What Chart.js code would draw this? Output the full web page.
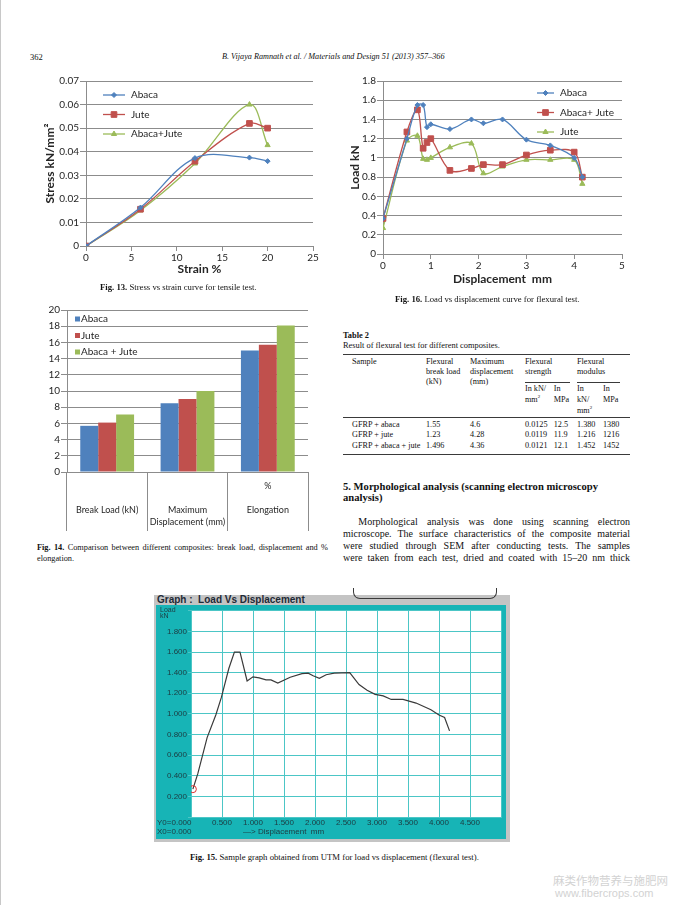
<!DOCTYPE html>
<html>
<head>
<meta charset="utf-8">
<script src="https://cdn.jsdelivr.net/npm/chart.js@4.4.1/dist/chart.umd.min.js"></script>
<style>
  html, body { margin: 0; padding: 0; background: #fff; }
  body { width: 678px; height: 905px; position: relative; overflow: hidden;
         font-family: "Liberation Serif", serif; color: #111; }
  canvas { position: absolute; }
  .t { position: absolute; white-space: nowrap; }
  .rule { position: absolute; height: 1px; background: #3a3a3a; }
  .just { text-align: justify; text-align-last: justify; white-space: normal; }
</style>
</head>
<body>
<div style="position:absolute;left:0;top:0;width:1px;height:905px;background:#c8c8c8"></div>

<canvas id="fig13" width="300" height="210" style="left:30px;top:72px"></canvas>
<canvas id="fig16" width="290" height="215" style="left:340px;top:72px"></canvas>
<canvas id="fig14" width="290" height="235" style="left:30px;top:303px"></canvas>

<!-- окно UTM (Fig. 15) -->
<div style="position:absolute;left:154px;top:595px;width:356px;height:247px;background:#c4c4c4"></div>
<div style="position:absolute;left:353px;top:588px;width:142px;height:10px;border:1px solid #3a3a3a;border-top:none;border-radius:0 0 7px 7px"></div>
<div class="t" style="left:157px;top:594px;font:bold 10px 'Liberation Sans';line-height:11px;color:#1e2a36">Graph :&nbsp; Load Vs Displacement</div>
<canvas id="fig15" width="350" height="234" style="left:156px;top:605px"></canvas>

<div id="texts"></div>

<script>
// ============================================
// Страница 362 — графики Fig. 13–16 (Chart.js)
// ============================================

// Fig. 13 — напряжение / деформация
const strainPct = [0, 6, 12, 18, 20];
const stressAbaca = [0, 0.0163, 0.0373, 0.0375, 0.036];
const stressJute = [0, 0.0156, 0.036, 0.052, 0.050];
const stressAbacaJute = [0, 0.0151, 0.035, 0.060, 0.0428];

// Fig. 16 — нагрузка / перемещение (изгиб)
const flexDisp = [0, 0.5, 0.72, 0.84, 0.92, 1.0, 1.4, 1.85, 2.1, 2.5, 3.0, 3.5, 4.0, 4.17];
const flexAbaca = [0.37, 1.20, 1.55, 1.55, 1.32, 1.35, 1.30, 1.40, 1.36, 1.40, 1.19, 1.13, 1.00, 0.80];
const flexAbacaJute = [0.37, 1.27, 1.50, 1.10, 1.16, 1.20, 0.87, 0.89, 0.93, 0.93, 1.03, 1.08, 1.06, 0.80];
const flexJute = [0.27, 1.18, 1.23, 0.99, 0.98, 1.00, 1.11, 1.15, 0.84, 0.91, 0.98, 0.98, 0.98, 0.73];

// Fig. 14 — сравнение композитов
const barCategories = [['', '', 'Break Load (kN)'], ['', '', 'Maximum', 'Displacement (mm)'], ['%', '', 'Elongation']];
const barAbaca = [5.7, 8.5, 15.0];
const barJute = [6.1, 9.0, 15.7];
const barAbacaJute = [7.1, 10.0, 18.1];

// Fig. 15 — график с UTM
const utmDisp = [0.03, 0.11, 0.26, 0.40, 0.49, 0.61, 0.70, 0.79, 0.905, 1.0, 1.10, 1.21, 1.29, 1.40, 1.60, 1.79, 1.89,
  1.97, 2.07, 2.18, 2.31, 2.56, 2.71, 2.84, 2.97, 3.10, 3.23, 3.42, 3.63, 3.87, 4.00, 4.09, 4.17];
const utmLoad = [0.27, 0.42, 0.77, 0.99, 1.16, 1.44, 1.60, 1.60, 1.32, 1.36, 1.35, 1.33, 1.33, 1.30, 1.355, 1.39, 1.395,
  1.37, 1.345, 1.38, 1.395, 1.40, 1.285, 1.23, 1.19, 1.175, 1.14, 1.14, 1.105, 1.04, 0.99, 0.965, 0.835];

const BLUE = '#4f81bd';
const RED = '#c0504d';
const GREEN = '#9bbb59';
const GRID = '#8c8c8c';
const TXT = '#262626';
const TEAL = '#17b4b6';
const tickFont = { family: 'Lato', size: 10 };
const titleFont = { family: 'Lato', size: 12, weight: 'bold' };

const pts = (xs, ys) => xs.map((x, i) => ({ x, y: ys[i] }));

// легенда внутри области графика (как в Excel: линия + маркер)
const insideLegend = {
  id: 'insideLegend',
  afterDraw(chart, args, opts) {
    if (opts.x === undefined) return;
    const ctx = chart.ctx;
    ctx.save();
    ctx.font = '10px Lato';
    ctx.textBaseline = 'middle';
    chart.data.datasets.forEach((ds, i) => {
      const y = opts.y + i * opts.gap;
      if (opts.box) {
        ctx.fillStyle = ds.backgroundColor;
        ctx.fillRect(opts.x, y - 2.5, 5, 5);
      } else {
        ctx.strokeStyle = ds.borderColor;
        ctx.lineWidth = 1.3;
        ctx.beginPath();
        ctx.moveTo(opts.x, y);
        ctx.lineTo(opts.x + opts.len, y);
        ctx.stroke();
        ctx.fillStyle = ds.pointBackgroundColor;
        ctx.strokeStyle = ds.pointBorderColor;
        ctx.lineWidth = 1;
        Chart.helpers.drawPoint(ctx, { pointStyle: ds.pointStyle, radius: ds.pointRadius, borderWidth: 1, rotation: 0 },
          opts.x + opts.len / 2, y);
      }
      ctx.fillStyle = TXT;
      ctx.fillText(ds.label, opts.x + opts.len + opts.textGap, y);
    });
    ctx.restore();
  }
};

function series(label, xs, ys, color, style, radius) {
  return {
    label, data: pts(xs, ys),
    borderColor: color, backgroundColor: color,
    pointBackgroundColor: color, pointBorderColor: color,
    pointStyle: style, pointRadius: radius, pointBorderWidth: 1,
    borderWidth: 1.3, tension: 0.35, fill: false
  };
}

function makeLine(id, datasets, cfg) {
  return new Chart(document.getElementById(id), {
    type: 'line',
    data: { datasets },
    options: {
      responsive: false, animation: false, devicePixelRatio: 1,
      layout: { padding: cfg.padding },
      plugins: { legend: { display: false }, tooltip: { enabled: false }, insideLegend: cfg.legend },
      scales: {
        x: {
          type: 'linear', min: cfg.xMin, max: cfg.xMax,
          ticks: { stepSize: cfg.xStep, color: TXT, font: tickFont, padding: 1 },
          grid: { drawOnChartArea: false, color: GRID, tickLength: 5 },
          border: { color: GRID },
          title: { display: true, text: cfg.xTitle, color: TXT, font: titleFont, padding: { top: 0, bottom: cfg.xTitlePad } },
          afterFit: s => { s.height = cfg.xH; }
        },
        y: {
          min: cfg.yMin, max: cfg.yMax,
          ticks: { stepSize: cfg.yStep, color: TXT, font: tickFont, padding: 1, callback: cfg.yFmt },
          grid: { color: GRID, tickLength: 6 },
          border: { color: GRID },
          title: { display: true, text: cfg.yTitle, color: TXT, font: titleFont, padding: { top: cfg.yTitlePad, bottom: 0 } },
          afterFit: s => { s.width = cfg.yW; }
        }
      }
    },
    plugins: [insideLegend]
  });
}

// Fig. 13
makeLine('fig13', [
  series('Abaca', strainPct, stressAbaca, BLUE, 'rectRot', 2.5),
  series('Jute', strainPct, stressJute, RED, 'rect', 4),
  series('Abaca+Jute', strainPct, stressAbacaJute, GREEN, 'triangle', 3)
], {
  padding: { top: 9, right: 17, left: 0, bottom: 0 },
  xMin: 0, xMax: 25, xStep: 5, xTitle: 'Strain %', xTitlePad: 6, xH: 36,
  yMin: 0, yMax: 0.07, yStep: 0.01, yTitle: 'Stress kN/mm²', yTitlePad: 13, yW: 56,
  yFmt: v => String(+v.toFixed(2)),
  legend: { x: 73, y: 23, gap: 19.5, len: 22, textGap: 6 }
});

// Fig. 16
makeLine('fig16', [
  series('Abaca', flexDisp, flexAbaca, BLUE, 'rectRot', 2.5),
  series('Abaca+ Jute', flexDisp, flexAbacaJute, RED, 'rect', 4),
  series('Jute', flexDisp, flexJute, GREEN, 'triangle', 3)
], {
  padding: { top: 9, right: 8, left: 0, bottom: 0 },
  xMin: 0, xMax: 5, xStep: 1, xTitle: 'Displacement  mm', xTitlePad: 1, xH: 33,
  yMin: 0, yMax: 1.8, yStep: 0.2, yTitle: 'Load kN', yTitlePad: 8, yW: 43,
  yFmt: v => String(+v.toFixed(1)),
  legend: { x: 197, y: 21, gap: 19.5, len: 17, textGap: 6 }
});

// Fig. 14
new Chart(document.getElementById('fig14'), {
  type: 'bar',
  data: {
    labels: barCategories,
    datasets: [
      { label: 'Abaca', data: barAbaca, backgroundColor: BLUE },
      { label: 'Jute', data: barJute, backgroundColor: RED },
      { label: 'Abaca + Jute', data: barAbacaJute, backgroundColor: GREEN }
    ]
  },
  options: {
    responsive: false, animation: false, devicePixelRatio: 1,
    layout: { padding: { top: 7, right: 12, left: 0, bottom: 0 } },
    datasets: { bar: { categoryPercentage: 0.67, barPercentage: 1 } },
    plugins: {
      legend: { display: false }, tooltip: { enabled: false },
      insideLegend: { box: true, x: 45, y: 16, gap: 16.5, len: 0, textGap: 6 }
    },
    scales: {
      x: {
        grid: { offset: true, drawOnChartArea: false, color: GRID, tickLength: 59 },
        border: { color: GRID },
        ticks: { color: TXT, font: { family: 'Lato', size: 9, lineHeight: '12px' }, padding: -51, maxRotation: 0, autoSkip: false },
        afterFit: s => { s.height = 66; }
      },
      y: {
        min: 0, max: 20,
        ticks: { stepSize: 2, color: TXT, font: tickFont, padding: 1 },
        grid: { color: GRID, tickLength: 6 },
        border: { color: GRID },
        afterFit: s => { s.width = 37; }
      }
    }
  },
  plugins: [insideLegend]
});

// Fig. 15 — окно программы UTM
const utmFrame = {
  id: 'utmFrame',
  beforeDraw(chart) {
    const { ctx, chartArea: a, width, height } = chart;
    ctx.save();
    ctx.fillStyle = TEAL;
    ctx.fillRect(0, 0, width, height);
    ctx.fillStyle = '#fff';
    ctx.fillRect(a.left, a.top, a.right - a.left, a.bottom - a.top);
    ctx.restore();
  },
  afterDraw(chart) {
    const ctx = chart.ctx;
    ctx.save();
    ctx.fillStyle = '#1d3a40';
    ctx.textBaseline = 'middle';
    ctx.font = '7px "Liberation Sans"';
    ctx.fillText('Load', 4, 5);
    ctx.fillText('kN', 4, 11);
    ctx.font = '8px "Liberation Sans"';
    ctx.fillText('Y0=0.000', 1, 218);
    ctx.fillText('X0=0.000', 1, 226.5);
    ctx.fillText('—> Displacement  mm', 87, 227);
    ctx.restore();
  }
};

new Chart(document.getElementById('fig15'), {
  type: 'line',
  data: {
    datasets: [{
      data: pts(utmDisp, utmLoad),
      borderColor: '#3a3a3a', borderWidth: 1.2, tension: 0,
      pointRadius: c => (c.dataIndex === 0 ? 3.5 : 0),
      pointBorderColor: '#e03030', pointBackgroundColor: 'rgba(0,0,0,0)', pointBorderWidth: 1
    }]
  },
  options: {
    responsive: false, animation: false, devicePixelRatio: 1,
    layout: { padding: { top: 1, right: 0, left: 0, bottom: 0 } },
    plugins: { legend: { display: false }, tooltip: { enabled: false } },
    scales: {
      x: {
        type: 'linear', min: 0, max: 5,
        ticks: { stepSize: 0.5, color: '#1d3a40', font: { family: 'Liberation Sans', size: 8 }, padding: 1,
                 callback: v => (v === 0 || v >= 5 ? '' : v.toFixed(3)) },
        grid: { color: '#4cc6c6', drawTicks: false },
        border: { color: '#4cc6c6' },
        afterFit: s => { s.height = 22; }
      },
      y: {
        min: 0, max: 2,
        ticks: { stepSize: 0.2, color: '#1d3a40', font: { family: 'Liberation Sans', size: 8 }, padding: 1,
                 callback: v => (v < 0.1 || v > 1.9 ? '' : v.toFixed(3)) },
        grid: { color: '#4cc6c6', tickLength: 3 },
        border: { color: '#4cc6c6' },
        afterFit: s => { s.width = 35; }
      }
    }
  },
  plugins: [utmFrame]
});

// ---- текст страницы
const CAP = 'font-size:8.7px';
const TB = 'font-size:8.2px';
const PAR = 'font-size:10px';
const texts = [
  // [x, yЦентр, html, стиль, выключка]
  [30, 57, '362', 'font-size:8.5px'],
  [222, 57, 'B. Vijaya Ramnath et al. / Materials and Design 51 (2013) 357–366', 'font-size:8.2px;font-style:italic'],
  [100, 287, '<b>Fig. 13.</b> Stress vs strain curve for tensile test.', CAP],
  [395, 299, '<b>Fig. 16.</b> Load vs displacement curve for flexural test.', CAP],
  [37, 548.3, '<b>Fig. 14.</b> Comparison between different composites: break load, displacement and %', 'font-size:8.3px;width:291px', true],
  [37, 558.7, 'elongation.', 'font-size:8.3px'],
  [190, 857, '<b>Fig. 15.</b> Sample graph obtained from UTM for load vs displacement (flexural test).', CAP],
  // таблица 2
  [343, 336, '<b>Table 2</b>', 'font-size:8.4px'],
  [343, 346, 'Result of flexural test for different composites.', 'font-size:8.4px'],
  [352, 362, 'Sample', TB],
  [426, 362, 'Flexural', TB], [426, 372, 'break load', TB], [426, 382, '(kN)', TB],
  [470, 362, 'Maximum', TB], [470, 372, 'displacement', TB], [470, 382, '(mm)', TB],
  [525, 362, 'Flexural', TB], [525, 372, 'strength', TB],
  [577, 362, 'Flexural', TB], [577, 372, 'modulus', TB],
  [525, 389, 'In kN/', TB], [525, 400, 'mm<sup style="font-size:5px;line-height:0">2</sup>', TB],
  [553.7, 389, 'In', TB], [553.7, 400, 'MPa', TB],
  [577, 389, 'In', TB], [577, 400, 'kN/', TB], [577, 411, 'mm<sup style="font-size:5px;line-height:0">2</sup>', TB],
  [603, 389, 'In', TB], [603, 400, 'MPa', TB],
  [352, 424.5, 'GFRP + abaca', TB], [426, 424.5, '1.55', TB], [470, 424.5, '4.6', TB],
  [525, 424.5, '0.0125', TB], [553.7, 424.5, '12.5', TB], [577, 424.5, '1.380', TB], [603, 424.5, '1380', TB],
  [352, 435, 'GFRP + jute', TB], [426, 435, '1.23', TB], [470, 435, '4.28', TB],
  [525, 435, '0.0119', TB], [553.7, 435, '11.9', TB], [577, 435, '1.216', TB], [603, 435, '1216', TB],
  [352, 445.7, 'GFRP + abaca + jute', TB], [426, 445.7, '1.496', TB], [470, 445.7, '4.36', TB],
  [525, 445.7, '0.0121', TB], [553.7, 445.7, '12.1', TB], [577, 445.7, '1.452', TB], [603, 445.7, '1452', TB],
  // раздел 5
  [343, 486.7, '5. Morphological analysis (scanning electron microscopy', 'font-size:10.6px;font-weight:bold'],
  [343, 498.3, 'analysis)', 'font-size:10.6px;font-weight:bold'],
  [358.3, 522.3, 'Morphological analysis was done using scanning electron', PAR + ';width:271.7px', true],
  [343, 534.3, 'microscope. The surface characteristics of the composite material', PAR + ';width:287px', true],
  [343, 546.3, 'were studied through SEM after conducting tests. The samples', PAR + ';width:287px', true],
  [343, 558.3, 'were taken from each test, dried and coated with 15–20 nm thick', PAR + ';width:287px', true],
  // водяной знак
  [553, 880, '麻类作物营养与施肥网', 'font-size:11.5px;font-family:"Noto Sans CJK SC";color:#d2d2d2'],
  [555, 893, 'www.fibercrops.com', 'font-size:11px;font-family:"Liberation Sans";color:#d2d2d2']
];

const holder = document.getElementById('texts');
texts.forEach(([x, y, html, style, justify]) => {
  const d = document.createElement('div');
  d.className = 't' + (justify ? ' just' : '');
  d.style.cssText = style + ';left:' + x + 'px;top:' + (y - 6) + 'px;line-height:12px;height:12px;';
  d.innerHTML = html;
  holder.appendChild(d);
});

// линейки таблицы
[[343, 354, 287], [525, 382, 45], [577, 382, 43], [343, 417, 287], [343, 453.5, 287]].forEach(([x, y, w]) => {
  const r = document.createElement('div');
  r.className = 'rule';
  r.style.cssText = 'left:' + x + 'px;top:' + y + 'px;width:' + w + 'px;';
  holder.appendChild(r);
});
</script>
</body>
</html>
